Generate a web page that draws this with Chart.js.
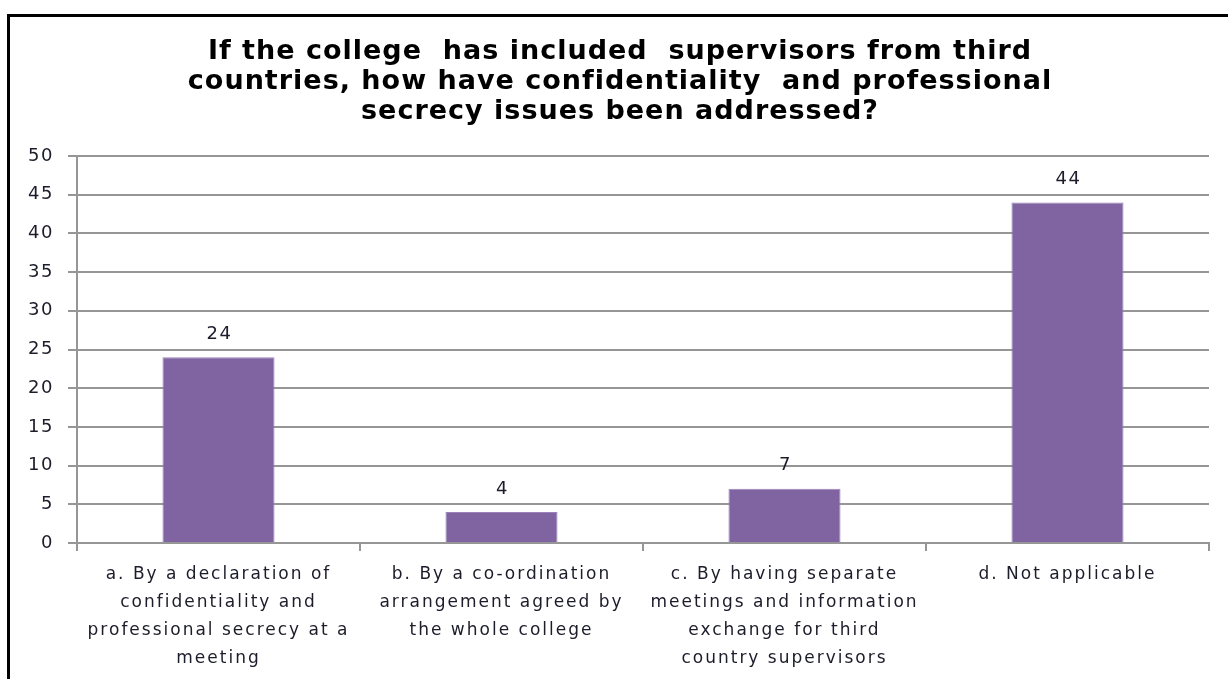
<!DOCTYPE html>
<html>
<head>
<meta charset="utf-8">
<script src="https://cdn.jsdelivr.net/npm/chart.js@4.4.1/dist/chart.umd.min.js"></script>
<style>
  html, body { margin: 0; padding: 0; background: #fff; overflow: hidden; }
  #frame {
    position: absolute; left: 7px; top: 14px; width: 1280px; height: 720px;
    border: 3px solid #000; box-sizing: border-box;
  }
  #wrap { position: absolute; left: 0; top: 0; width: 1228px; height: 679px; }
</style>
</head>
<body>
<div id="frame"></div>
<div id="wrap"><canvas id="chart" width="1228" height="679"></canvas></div>
<script>
const titleLines = [
  'If the college  has included  supervisors from third',
  'countries, how have confidentiality  and professional',
  'secrecy issues been addressed?'
];
const categories = [
  ['a. By a declaration of', 'confidentiality and', 'professional secrecy at a', 'meeting'],
  ['b. By a co-ordination', 'arrangement agreed by', 'the whole college'],
  ['c. By having separate', 'meetings and information', 'exchange for third', 'country supervisors'],
  ['d. Not applicable']
];
const responses = [24, 4, 7, 44];
const yTicks = { min: 0, max: 50, step: 5 };

const FONT = '"DejaVu Sans", Verdana, sans-serif';
const textColor = '#1c1c2a';
const gridColor = '#969696';

// Wide, loosely spaced lettering for each text block
function spaced(fn, spacing) {
  return function (...args) {
    const ctx = this.ctx;
    ctx.save();
    ctx.letterSpacing = spacing + 'px';
    fn.apply(this, args);
    ctx.restore();
  };
}

const spacing = {
  id: 'spacing',
  afterLayout(chart) {
    const xs = chart.scales.x, ys = chart.scales.y, tb = chart.titleBlock;
    if (!xs._spaced) { xs.drawLabels = spaced(xs.drawLabels, 2); xs._spaced = true; }
    if (!ys._spaced) { ys.drawLabels = spaced(ys.drawLabels, 1.5); ys._spaced = true; }
    if (!tb._spaced) { tb.draw = spaced(tb.draw, 1); tb._spaced = true; }
    // title sits centred over the whole framed panel
    tb.left += 15.5;
    tb.right += 15.5;
  }
};

const valueLabels = {
  id: 'valueLabels',
  afterDatasetsDraw(chart) {
    const ctx = chart.ctx;
    const meta = chart.getDatasetMeta(0);
    ctx.save();
    ctx.font = '18px ' + FONT;
    ctx.letterSpacing = '1.5px';
    ctx.fillStyle = textColor;
    ctx.textAlign = 'center';
    ctx.textBaseline = 'middle';
    meta.data.forEach((bar, i) => {
      ctx.fillText(String(responses[i]), bar.x + 1, bar.y - 23);
    });
    ctx.restore();
  }
};

new Chart(document.getElementById('chart'), {
  type: 'bar',
  data: {
    labels: categories,
    datasets: [{
      data: responses,
      backgroundColor: '#8064A2',
      borderColor: '#9a83b8',
      borderWidth: 1,
      categoryPercentage: 1,
      barPercentage: 0.396
    }]
  },
  options: {
    responsive: false,
    animation: false,
    devicePixelRatio: 1,
    layout: { padding: { left: 0, right: 19, top: 0, bottom: 0 } },
    plugins: {
      legend: { display: false },
      tooltip: { enabled: false },
      title: {
        display: true,
        text: titleLines,
        color: '#000',
        font: { family: FONT, size: 27, weight: 'bold', lineHeight: 30 / 27 },
        padding: { top: 37, bottom: 29 }
      }
    },
    scales: {
      x: {
        offset: true,
        grid: {
          offset: true,
          drawOnChartArea: false,
          drawTicks: true,
          tickLength: 8,
          color: gridColor,
          lineWidth: 2
        },
        border: { display: true, color: gridColor, width: 2 },
        ticks: {
          color: textColor,
          font: { family: FONT, size: 17, lineHeight: 28 / 17 },
          padding: 10,
          maxRotation: 0,
          autoSkip: false
        },
        afterFit(scale) { scale.height = 136; }
      },
      y: {
        min: yTicks.min,
        max: yTicks.max,
        grid: {
          color: gridColor,
          lineWidth: 2,
          drawTicks: true,
          tickLength: 9
        },
        border: { display: true, color: gridColor, width: 2 },
        ticks: {
          stepSize: yTicks.step,
          color: textColor,
          font: { family: FONT, size: 18 },
          padding: 14
        },
        afterFit(scale) { scale.width = 77; }
      }
    }
  },
  plugins: [spacing, valueLabels]
});
</script>
</body>
</html>
